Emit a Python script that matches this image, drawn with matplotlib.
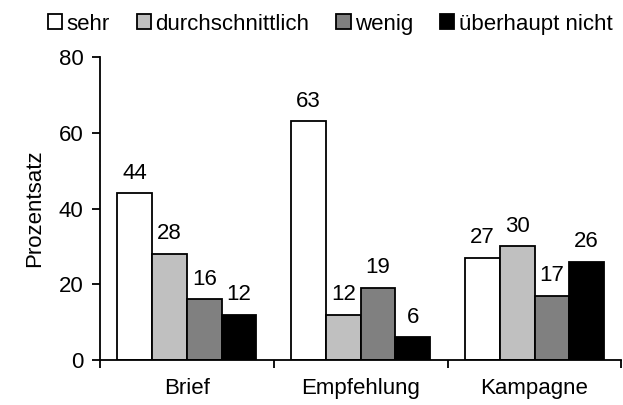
import numpy as np
import matplotlib.pyplot as plt

plt.rcParams['font.family'] = ['Liberation Sans', 'DejaVu Sans']

categories = ['Brief', 'Empfehlung', 'Kampagne']
series = ['sehr', 'durchschnittlich', 'wenig', 'überhaupt nicht']
sehr = [44, 63, 27]
durchschnittlich = [28, 12, 30]
wenig = [16, 19, 17]
ueberhaupt_nicht = [12, 6, 26]
colors = ['#ffffff', '#c0c0c0', '#808080', '#000000']

values = [sehr, durchschnittlich, wenig, ueberhaupt_nicht]
fs = 16

fig = plt.figure(figsize=(6.23, 4.05), dpi=100)
ax = fig.add_axes([0.1605, 0.111, 0.837, 0.748])

x = np.arange(len(categories))
width = 0.2
for i, (name, vals, c) in enumerate(zip(series, values, colors)):
    pos = x + (i - 1.5) * width
    ax.bar(pos, vals, width, color=c, edgecolor='black', linewidth=1.3, label=name)
    for p, v in zip(pos, vals):
        ax.annotate(str(v), (p, v), xytext=(0, 7), textcoords='offset points',
                    ha='center', va='bottom', fontsize=fs)

ax.set_xlim(-0.5, 2.5)
ax.set_ylim(0, 80)
ax.set_yticks([0, 20, 40, 60, 80])
ax.set_xticks([-0.5, 0.5, 1.5, 2.5])
ax.set_xticklabels([])
ax.set_xticks(x, minor=True)
ax.set_xticklabels(categories, minor=True)
ax.tick_params(axis='x', which='minor', length=0, pad=13, labelsize=fs)
ax.tick_params(axis='x', which='major', direction='out', length=6, width=1.3)
ax.tick_params(axis='y', direction='out', length=6, width=1.3, pad=6, labelsize=fs)
for s in ['top', 'right']:
    ax.spines[s].set_visible(False)
for s in ['left', 'bottom']:
    ax.spines[s].set_linewidth(1.3)

ax.set_ylabel('Prozentsatz', fontsize=fs, labelpad=10)

fig.legend(loc='upper center', bbox_to_anchor=(0.53, 1.005), ncol=4, frameon=False,
           fontsize=fs, handlelength=0.65, handleheight=0.65, handletextpad=0.2,
           columnspacing=1.2, borderpad=0.2)

fig.savefig('out.png', dpi=100)
